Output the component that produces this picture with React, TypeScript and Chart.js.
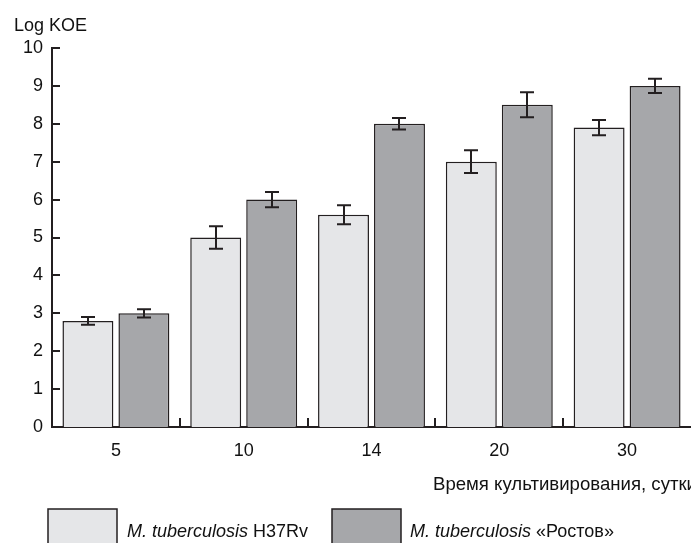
import React, { useEffect, useRef } from "react";
import { Chart, registerables } from "chart.js";

Chart.register(...registerables);

const categories = ["5", "10", "14", "20", "30"];
const seriesNames = ["H37Rv", "«Ростов»"];
const speciesName = "M. tuberculosis";
const lightValues = [2.8, 5.0, 5.6, 7.0, 7.9];
const darkValues = [3.0, 6.0, 8.0, 8.5, 9.0];
const lightErrors = [0.1, 0.3, 0.25, 0.3, 0.2];
const darkErrors = [0.11, 0.2, 0.15, 0.33, 0.19];
const yTickValues = [0, 1, 2, 3, 4, 5, 6, 7, 8, 9, 10];
const yTitle = "Log KOE";
const xTitle = "Время культивирования, сутки";

const FONT = "'Liberation Sans', Arial, Helvetica, sans-serif";
const LIGHT = "#e5e6e8";
const DARK = "#a6a7aa";
const INK = "#231f20";

const overlayPlugin = {
  id: "overlay",
  afterDatasetsDraw(chart: any) {
    const ctx = chart.ctx;
    const x = chart.scales.x;
    const y = chart.scales.y;
    const area = chart.chartArea;
    ctx.save();
    ctx.strokeStyle = INK;
    ctx.lineWidth = 2;
    // inward y ticks
    yTickValues.forEach((v) => {
      const py = Math.round(y.getPixelForValue(v));
      ctx.beginPath();
      ctx.moveTo(area.left, py);
      ctx.lineTo(area.left + 8, py);
      ctx.stroke();
    });
    // inward x boundary ticks
    for (let i = 1; i < categories.length; i++) {
      const px = Math.round((x.getPixelForTick(i - 1) + x.getPixelForTick(i)) / 2);
      ctx.beginPath();
      ctx.moveTo(px, area.bottom);
      ctx.lineTo(px, area.bottom - 9);
      ctx.stroke();
    }
    // error bars
    const errs = [lightErrors, darkErrors];
    const vals = [lightValues, darkValues];
    [0, 1].forEach((di) => {
      const meta = chart.getDatasetMeta(di);
      meta.data.forEach((bar: any, j: number) => {
        const cx = Math.round(bar.x);
        const top = y.getPixelForValue(vals[di][j] + errs[di][j]);
        const bot = y.getPixelForValue(vals[di][j] - errs[di][j]);
        ctx.beginPath();
        ctx.moveTo(cx, top);
        ctx.lineTo(cx, bot);
        ctx.moveTo(cx - 7, top);
        ctx.lineTo(cx + 7, top);
        ctx.moveTo(cx - 7, bot);
        ctx.lineTo(cx + 7, bot);
        ctx.stroke();
      });
    });
    // titles
    ctx.fillStyle = "#111";
    ctx.textBaseline = "alphabetic";
    ctx.textAlign = "left";
    ctx.font = `18px ${FONT}`;
    ctx.fillText(yTitle, 14, 31);
    ctx.font = `18.6px ${FONT}`;
    ctx.fillText(xTitle, 433, 490);
    // legend
    const items = [
      { color: chart.data.datasets[0].backgroundColor, bx: 48, tx: 127, name: seriesNames[0] },
      { color: chart.data.datasets[1].backgroundColor, bx: 332, tx: 410, name: seriesNames[1] },
    ];
    items.forEach((it) => {
      ctx.fillStyle = it.color;
      ctx.fillRect(it.bx, 509, 69, 50);
      ctx.lineWidth = 1.5;
      ctx.strokeStyle = INK;
      ctx.strokeRect(it.bx, 509, 69, 50);
      ctx.fillStyle = "#111";
      ctx.font = `italic 18px ${FONT}`;
      ctx.fillText(speciesName, it.tx, 537);
      const w = ctx.measureText(speciesName + " ").width;
      ctx.font = `18px ${FONT}`;
      ctx.fillText(it.name, it.tx + w, 537);
    });
    ctx.restore();
  },
};

export default function App() {
  const ref = useRef<HTMLCanvasElement | null>(null);
  useEffect(() => {
    if (!ref.current) return;
    const chart = new Chart(ref.current, {
      type: "bar",
      data: {
        labels: categories,
        datasets: [
          {
            label: speciesName + " " + seriesNames[0],
            data: lightValues,
            backgroundColor: LIGHT,
            borderColor: INK,
            borderWidth: 1.5,
            categoryPercentage: 0.876,
            barPercentage: 0.91,
          },
          {
            label: speciesName + " " + seriesNames[1],
            data: darkValues,
            backgroundColor: DARK,
            borderColor: INK,
            borderWidth: 1.5,
            categoryPercentage: 0.876,
            barPercentage: 0.91,
          },
        ],
      },
      options: {
        responsive: false,
        animation: false,
        layout: { padding: { top: 48, left: 0, right: 0, bottom: 0 } },
        plugins: { legend: { display: false }, tooltip: { enabled: false }, title: { display: false } },
        scales: {
          x: {
            grid: { display: false, drawTicks: false },
            border: { display: true, color: INK, width: 2 },
            ticks: { color: "#111", font: { family: FONT, size: 18 }, padding: 13 },
            afterFit: (s: any) => {
              s.height = 116;
            },
          },
          y: {
            min: 0,
            max: 10,
            grid: { display: false, drawTicks: false },
            border: { display: true, color: INK, width: 2 },
            ticks: { stepSize: 1, color: "#111", font: { family: FONT, size: 18 }, padding: 9 },
            afterFit: (s: any) => {
              s.width = 52;
            },
          },
        },
      },
      plugins: [overlayPlugin],
    });
    return () => chart.destroy();
  }, []);
  return (
    <div style={{ position: "absolute", left: 0, top: 0, width: 691, height: 543, overflow: "hidden", background: "#fff" }}>
      <canvas ref={ref} width={691} height={543} />
    </div>
  );
}
